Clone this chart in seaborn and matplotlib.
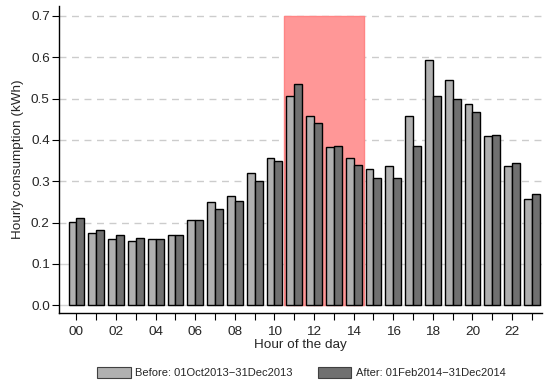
import matplotlib
matplotlib.use("Agg")
import matplotlib.pyplot as plt
from matplotlib.patches import Patch
import pandas as pd
import seaborn as sns

# Average hourly consumption (kWh) per hour of the day
hours = [f"{h:02d}" for h in range(24)]
before = [0.202, 0.175, 0.161, 0.156, 0.159, 0.170, 0.205, 0.249, 0.264, 0.320,
          0.357, 0.507, 0.458, 0.382, 0.355, 0.329, 0.336, 0.458, 0.593, 0.545,
          0.486, 0.410, 0.336, 0.258]
after = [0.211, 0.182, 0.169, 0.162, 0.161, 0.169, 0.206, 0.232, 0.251, 0.300,
         0.349, 0.535, 0.440, 0.385, 0.339, 0.307, 0.307, 0.386, 0.507, 0.499,
         0.467, 0.412, 0.343, 0.268]
series_labels = ["Before: 01Oct2013\u221231Dec2013", "After: 01Feb2014\u221231Dec2014"]
series_colors = ["#b0b0b0", "#707070"]
yticks = [0.0, 0.1, 0.2, 0.3, 0.4, 0.5, 0.6, 0.7]
peak_window = (10.5, 14.5)
peak_top = 0.7

df = pd.DataFrame({
    "hour": hours * 2,
    "kwh": before + after,
    "period": [series_labels[0]] * 24 + [series_labels[1]] * 24,
})

sns.set_style("white")
plt.rcParams["font.family"] = ["Liberation Sans", "DejaVu Sans"]

fig = plt.figure(figsize=(5.45, 3.8), dpi=100)
ax = fig.add_axes([0.108, 0.176, 0.886, 0.808])

# horizontal reference lines
for v in yticks:
    if v < 0.15:
        ax.axhline(v, color="#d4d4d4", lw=1.0, zorder=0)
    else:
        ax.axhline(v, color="#cccccc", lw=1.0, ls=(0, (5, 4)), zorder=0)

# shaded peak window
ax.fill_between(list(peak_window), 0, peak_top, facecolor="#ff9797",
                edgecolor="#ff8585", lw=1.0, zorder=1)

sns.barplot(data=df, x="hour", y="kwh", hue="period", order=hours,
            hue_order=series_labels, palette=series_colors,
            edgecolor="black", linewidth=1.0, saturation=1, width=0.8,
            legend=False, ax=ax, zorder=2)

ax.set_xlim(-0.89, 23.5)
ax.set_ylim(-0.0194, 0.724)

ax.set_xticks(range(24))
ax.set_xticklabels([h if i % 2 == 0 else "" for i, h in enumerate(hours)], fontsize=9.7)
ax.set_yticks(yticks)
ax.set_yticklabels([f"{v:.1f}" for v in yticks], fontsize=9.7)
ax.tick_params(axis="both", direction="out", length=5, width=0.8, color="black",
               bottom=True, left=True)
ax.tick_params(axis="x", pad=4)
ax.tick_params(axis="y", pad=1.5)

for side in ["top", "right"]:
    ax.spines[side].set_visible(False)
for side in ["left", "bottom"]:
    ax.spines[side].set_color("black")
    ax.spines[side].set_linewidth(1.0)

ax.set_xlabel("Hour of the day", fontsize=9.7, labelpad=1)
ax.set_ylabel("Hourly consumption (kWh)", fontsize=9.7, labelpad=5)

handles = [Patch(facecolor=c, edgecolor="#404040", lw=0.8) for c in series_colors]
fig.legend(handles, series_labels, loc="upper center", bbox_to_anchor=(0.553, 1 - 367 / 380),
           ncol=2, frameon=False, fontsize=8, handlelength=3.0, handleheight=1.1,
           handletextpad=0.4, columnspacing=2.3, borderaxespad=0, borderpad=0)

fig.savefig("out.png", dpi=100)
